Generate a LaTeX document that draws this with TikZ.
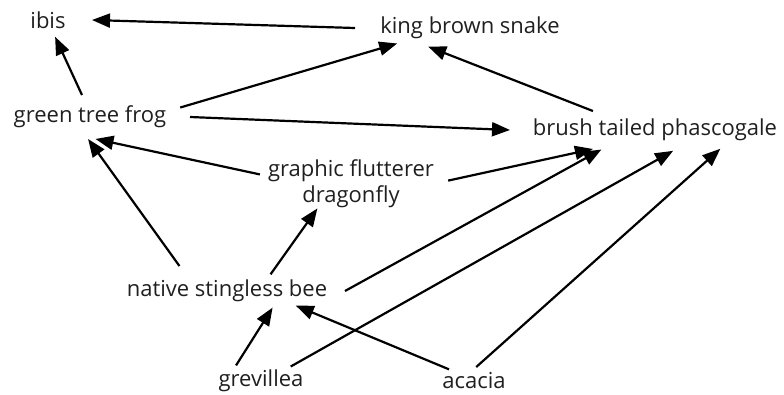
\documentclass[tikz,border=0pt]{standalone}
\usepackage{fontspec}
\setmainfont{Open Sans}
\usetikzlibrary{arrows.meta,shapes.geometric}
\begin{document}
\begin{tikzpicture}[x=1pt,y=-1pt,
  lbl/.style={ellipse,inner sep=0pt,outer sep=0pt},
  txt/.style={text=black!88,font=\fontsize{22}{26}\selectfont,align=center,inner sep=0pt},
  arr/.style={-{Triangle[length=18pt,width=14pt]},line width=2.2pt,black}]
\useasboundingbox (0,0) rectangle (784,394);
\node[lbl,minimum width=88pt,minimum height=34pt,label={[txt]center:ibis}] (ibis) at (48,20) {};
\node[lbl,minimum width=230pt,minimum height=40pt,label={[txt]center:king brown snake}] (kbs) at (470,28) {};
\node[lbl,minimum width=200pt,minimum height=44pt,label={[txt]center:green tree frog}] (frog) at (90,117) {};
\node[lbl,minimum width=290pt,minimum height=42pt,label={[txt]center:brush tailed phascogale}] (btp) at (655,130) {};
\node[lbl,minimum width=196pt,minimum height=52pt,label={[txt]center:graphic flutterer\\dragonfly}] (gfd) at (351,184) {};
\node[lbl,minimum width=236pt,minimum height=36pt,label={[txt]center:native stingless bee}] (bee) at (227,291) {};
\node[lbl,minimum width=100pt,minimum height=36pt,label={[txt]center:grevillea}] (grev) at (261,381) {};
\node[lbl,minimum width=90pt,minimum height=28pt,label={[txt]center:acacia}] (acacia) at (474,381) {};
\draw[arr] (kbs.180) -- (ibis.0);
\draw[arr] (frog.110) -- (ibis.-67.6);
\draw[arr] (frog.6.5) -- (kbs.-168.3);
\draw[arr] (frog.0) -- (btp.180);
\draw[arr] (btp.163.2) -- (kbs.-156.8);
\draw[arr] (gfd.174.1) -- (frog.-76.6);
\draw[arr,shorten <=10pt] (bee.158.6) -- (frog.-95.4);
\draw[arr] (bee.21.5) -- (gfd.-144.8);
\draw[arr] (gfd.2.4) -- (btp.-163.6);
\draw[arr] (bee.0) -- (btp.-160.8);
\draw[arr] (grev.148.2) -- (bee.-20.2);
\draw[arr] (grev.26.6) -- (btp.-49.6);
\draw[arr] (acacia.155.1) -- (bee.-12.2);
\draw[arr] (acacia.81.3) -- (btp.-16.1);
\end{tikzpicture}
\end{document}
